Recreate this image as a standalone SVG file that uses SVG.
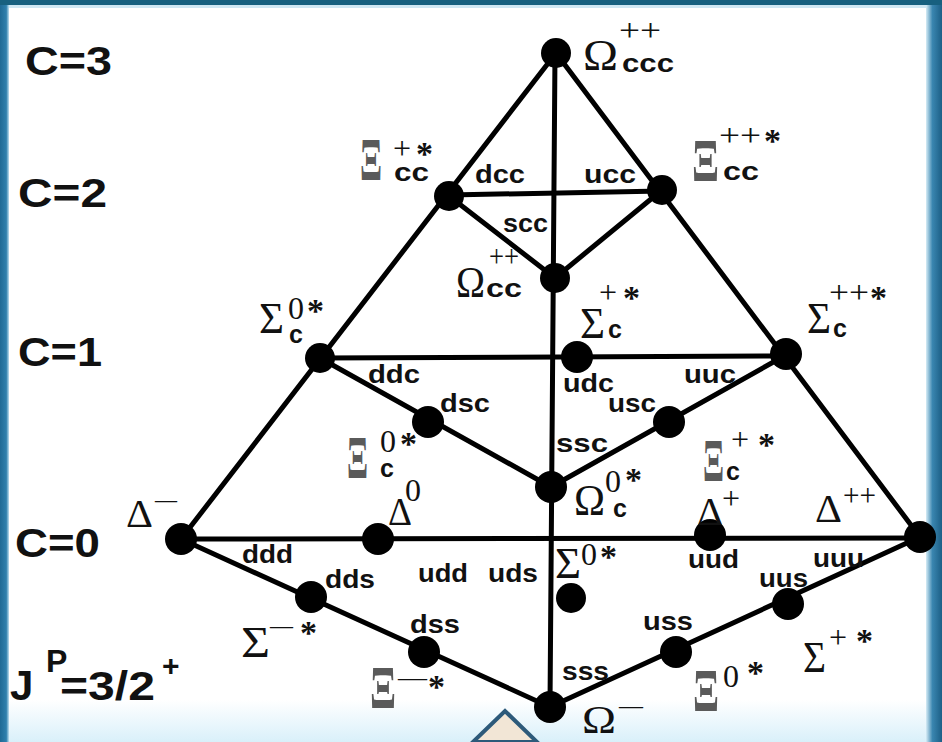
<svg xmlns="http://www.w3.org/2000/svg" width="942" height="742" viewBox="0 0 942 742">
<defs>
<linearGradient id="lb" x1="0" x2="1" y1="0" y2="0"><stop offset="0" stop-color="#1f6a95"/><stop offset="0.7" stop-color="#2f80ad"/><stop offset="1" stop-color="#bfe0f0"/></linearGradient>
<linearGradient id="rb" x1="0" x2="1" y1="0" y2="0"><stop offset="0" stop-color="#d6ecf6"/><stop offset="0.4" stop-color="#3a86b0"/><stop offset="1" stop-color="#1c5f86"/></linearGradient>
<linearGradient id="bb" x1="0" x2="0" y1="0" y2="1"><stop offset="0" stop-color="#ffffff"/><stop offset="1" stop-color="#d9f0fa"/></linearGradient>
<style>
.ln{stroke:#000;stroke-width:5;fill:none;stroke-linecap:round}
.nd{fill:#000}
.g{font-family:"Liberation Serif","Times New Roman",serif;font-size:44px;fill:#111}
.gx{font-family:"Liberation Serif","Times New Roman",serif;font-size:42px;font-weight:bold;fill:#5a5a5a}
.gd{font-family:"Liberation Serif","Times New Roman",serif;font-size:40px;fill:#111}
.sp{font-family:"Liberation Serif","Times New Roman",serif;font-size:32px;fill:#111}
.st{font-family:"Liberation Serif","Times New Roman",serif;font-size:34px;font-weight:bold;fill:#111}
.sb{font-family:"Liberation Sans",Arial,sans-serif;font-weight:bold;font-size:25px;fill:#111}
.q{font-family:"Liberation Sans",Arial,sans-serif;font-weight:bold;font-size:25px;fill:#111}
.c{font-family:"Liberation Sans",Arial,sans-serif;font-weight:bold;font-size:40px;fill:#111}
</style>
</defs>
<rect x="0" y="0" width="942" height="742" fill="#ffffff"/>
<rect x="0" y="700" width="942" height="42" fill="url(#bb)"/>
<rect x="0" y="0" width="9" height="742" fill="url(#lb)"/>
<rect x="926" y="0" width="16" height="742" fill="url(#rb)"/>
<rect x="0" y="0" width="942" height="5" fill="#17607f"/>
<rect x="9" y="5" width="917" height="3" fill="#cfe7f3"/>
<polygon points="473,742 505,711 537,742" fill="#f2e6d6" stroke="#2d5a7a" stroke-width="4"/>

<g id="connectors">
<line class="ln" x1="556" y1="53" x2="181" y2="539"/>
<line class="ln" x1="556" y1="53" x2="920" y2="537"/>
<line class="ln" x1="555" y1="53" x2="550" y2="707"/>
<line class="ln" x1="449" y1="195" x2="662" y2="191"/>
<line class="ln" x1="449" y1="196" x2="555" y2="278"/>
<line class="ln" x1="662" y1="190" x2="555" y2="278"/>
<line class="ln" x1="320" y1="358" x2="786" y2="356"/>
<line class="ln" x1="320" y1="358" x2="551" y2="487"/>
<line class="ln" x1="786" y1="355" x2="551" y2="487"/>
<line class="ln" x1="181" y1="539" x2="920" y2="538"/>
<line class="ln" x1="181" y1="539" x2="550" y2="707"/>
<line class="ln" x1="920" y1="537" x2="550" y2="707"/>
</g>

<g id="labels-left">
<text class="c" x="25" y="75" textLength="87" lengthAdjust="spacingAndGlyphs">C=3</text>
<text class="c" x="18" y="207" textLength="89" lengthAdjust="spacingAndGlyphs">C=2</text>
<text class="c" x="18" y="366" textLength="84" lengthAdjust="spacingAndGlyphs">C=1</text>
<text class="c" x="15" y="557" textLength="85" lengthAdjust="spacingAndGlyphs">C=0</text>
<text class="c" x="10" y="700" style="font-size:42px">J</text>
<text class="c" x="46" y="672" style="font-size:32px">P</text>
<text class="c" x="60" y="700" textLength="95" lengthAdjust="spacingAndGlyphs">=3/2</text>
<text class="c" x="162" y="676" style="font-size:30px">+</text>
</g>

<g id="n-omega-ccc"><circle class="nd" cx="556" cy="53" r="15"/>
<text class="g" x="583" y="70" textLength="35" lengthAdjust="spacingAndGlyphs">Ω</text><text class="sb" x="622" y="72" textLength="52" lengthAdjust="spacingAndGlyphs">ccc</text><text class="sp" x="619" y="41" textLength="42" lengthAdjust="spacingAndGlyphs">++</text></g>

<g id="n-xi-cc-p"><circle class="nd" cx="449" cy="196" r="15"/>
<text class="gx" transform="translate(360,180) scale(1,1.45)" x="0" y="0" textLength="22" lengthAdjust="spacingAndGlyphs">Ξ</text><text class="sb" x="394" y="181" textLength="35" lengthAdjust="spacingAndGlyphs">cc</text><text class="sp" x="393" y="159">+</text><text class="st" x="416" y="165">*</text></g>

<g id="n-xi-cc-pp"><circle class="nd" cx="662" cy="190" r="15"/>
<text class="gx" transform="translate(692,181) scale(1,1.45)" x="0" y="0" textLength="27" lengthAdjust="spacingAndGlyphs">Ξ</text><text class="sb" x="723" y="180" textLength="36" lengthAdjust="spacingAndGlyphs">cc</text><text class="sp" x="719" y="146" textLength="42" lengthAdjust="spacingAndGlyphs">++</text><text class="st" x="764" y="152">*</text></g>

<g id="n-omega-cc"><circle class="nd" cx="555" cy="278" r="15"/>
<text class="g" x="456" y="297" textLength="29" lengthAdjust="spacingAndGlyphs">Ω</text><text class="sb" x="486" y="297" textLength="36" lengthAdjust="spacingAndGlyphs">cc</text><text class="sp" x="489" y="267" textLength="30" lengthAdjust="spacingAndGlyphs">++</text></g>
<text class="q" x="475" y="183" textLength="50" lengthAdjust="spacingAndGlyphs">dcc</text>
<text class="q" x="584" y="183" textLength="52" lengthAdjust="spacingAndGlyphs">ucc</text>
<text class="q" x="503" y="232" textLength="45" lengthAdjust="spacingAndGlyphs">scc</text>

<g id="n-sigma-c0"><circle class="nd" cx="320" cy="358" r="15"/>
<text class="g" x="259" y="333" textLength="25" lengthAdjust="spacingAndGlyphs">Σ</text><text class="sp" x="288" y="319">0</text><text class="st" x="307" y="322">*</text><text class="sb" x="289" y="343">c</text></g>

<g id="n-sigma-cp"><circle class="nd" cx="577" cy="357" r="16"/>
<text class="g" x="580" y="338" textLength="25" lengthAdjust="spacingAndGlyphs">Σ</text><text class="sb" x="608" y="338">c</text><text class="sp" x="599" y="303">+</text><text class="st" x="623" y="309">*</text></g>

<g id="n-sigma-cpp"><circle class="nd" cx="786" cy="354" r="16"/>
<text class="g" x="807" y="333" textLength="24" lengthAdjust="spacingAndGlyphs">Σ</text><text class="sb" x="833" y="337">c</text><text class="sp" x="829" y="303" textLength="40" lengthAdjust="spacingAndGlyphs">++</text><text class="st" x="870" y="309">*</text></g>

<g id="n-xi-c0"><circle class="nd" cx="428" cy="422" r="16"/>
<text class="gx" transform="translate(347,478) scale(1,1.45)" x="0" y="0" textLength="21" lengthAdjust="spacingAndGlyphs">Ξ</text><text class="sp" x="380" y="452">0</text><text class="st" x="400" y="455">*</text><text class="sb" x="380" y="477">c</text></g>

<g id="n-xi-cp"><circle class="nd" cx="669" cy="422" r="16"/>
<text class="gx" transform="translate(703,481) scale(1,1.45)" x="0" y="0" textLength="21" lengthAdjust="spacingAndGlyphs">Ξ</text><text class="sb" x="726" y="480">c</text><text class="sp" x="731" y="450">+</text><text class="st" x="758" y="456">*</text></g>

<g id="n-omega-c0"><circle class="nd" cx="551" cy="487" r="16"/>
<text class="g" x="574" y="515" textLength="31" lengthAdjust="spacingAndGlyphs">Ω</text><text class="sp" x="605" y="492">0</text><text class="st" x="625" y="491">*</text><text class="sb" x="613" y="517">c</text></g>

<text class="q" x="368" y="383" textLength="52" lengthAdjust="spacingAndGlyphs">ddc</text>
<text class="q" x="440" y="412" textLength="50" lengthAdjust="spacingAndGlyphs">dsc</text>
<text class="q" x="563" y="392" textLength="51" lengthAdjust="spacingAndGlyphs">udc</text>
<text class="q" x="684" y="383" textLength="52" lengthAdjust="spacingAndGlyphs">uuc</text>
<text class="q" x="608" y="412" textLength="48" lengthAdjust="spacingAndGlyphs">usc</text>
<text class="q" x="556" y="452" textLength="52" lengthAdjust="spacingAndGlyphs">ssc</text>

<g id="n-delta-m"><circle class="nd" cx="181" cy="539" r="16"/>
<text class="gd" x="126" y="527" textLength="27" lengthAdjust="spacingAndGlyphs">Δ</text><text class="sp" x="155" y="507" style="font-size:24px" textLength="22" lengthAdjust="spacingAndGlyphs">—</text></g>

<g id="n-delta-0"><circle class="nd" cx="378" cy="539" r="16"/>
<text class="gd" x="388" y="525" textLength="24" lengthAdjust="spacingAndGlyphs">Δ</text><text class="sp" x="405" y="501">0</text></g>

<g id="n-delta-p"><circle class="nd" cx="710" cy="535" r="16"/>
<text class="gd" x="697" y="525" textLength="26" lengthAdjust="spacingAndGlyphs">Δ</text><text class="sp" x="722" y="509">+</text></g>

<g id="n-delta-pp"><circle class="nd" cx="920" cy="537" r="16"/>
<text class="gd" x="815" y="522" textLength="27" lengthAdjust="spacingAndGlyphs">Δ</text><text class="sp" x="843" y="506" textLength="33" lengthAdjust="spacingAndGlyphs">++</text></g>

<g id="n-sigma-0"><circle class="nd" cx="571" cy="598" r="15"/>
<text class="g" x="555" y="578" textLength="26" lengthAdjust="spacingAndGlyphs">Σ</text><text class="sp" x="581" y="565">0</text><text class="st" x="600" y="568">*</text></g>

<g id="n-sigma-m"><circle class="nd" cx="311" cy="597" r="16"/>
<text class="g" x="241" y="657" textLength="29" lengthAdjust="spacingAndGlyphs">Σ</text><text class="sp" x="270" y="633" style="font-size:24px" textLength="23" lengthAdjust="spacingAndGlyphs">—</text><text class="st" x="300" y="644">*</text></g>

<g id="n-xi-m"><circle class="nd" cx="424" cy="652" r="16"/>
<text class="gx" transform="translate(370,708) scale(1,1.45)" x="0" y="0" textLength="26" lengthAdjust="spacingAndGlyphs">Ξ</text><text class="sp" x="398" y="685" style="font-size:24px" textLength="29" lengthAdjust="spacingAndGlyphs">—</text><text class="st" x="428" y="698">*</text></g>

<g id="n-xi-0"><circle class="nd" cx="676" cy="652" r="16"/>
<text class="gx" transform="translate(693,711) scale(1,1.45)" x="0" y="0" textLength="26" lengthAdjust="spacingAndGlyphs">Ξ</text><text class="sp" x="723" y="687">0</text><text class="st" x="747" y="684">*</text></g>

<g id="n-sigma-p"><circle class="nd" cx="788" cy="604" r="16"/>
<text class="g" x="803" y="672" textLength="23" lengthAdjust="spacingAndGlyphs">Σ</text><text class="sp" x="829" y="648">+</text><text class="st" x="856" y="652">*</text></g>

<g id="n-omega-m"><circle class="nd" cx="550" cy="707" r="16"/>
<text class="gd" x="582" y="733" textLength="34" lengthAdjust="spacingAndGlyphs">Ω</text><text class="sp" x="619" y="713" style="font-size:24px" textLength="24" lengthAdjust="spacingAndGlyphs">—</text></g>

<text class="q" x="242" y="563" textLength="51" lengthAdjust="spacingAndGlyphs">ddd</text>
<text class="q" x="325" y="588" textLength="50" lengthAdjust="spacingAndGlyphs">dds</text>
<text class="q" x="418" y="582" textLength="50" lengthAdjust="spacingAndGlyphs">udd</text>
<text class="q" x="488" y="582" textLength="50" lengthAdjust="spacingAndGlyphs">uds</text>
<text class="q" x="410" y="633" textLength="50" lengthAdjust="spacingAndGlyphs">dss</text>
<text class="q" x="688" y="568" textLength="51" lengthAdjust="spacingAndGlyphs">uud</text>
<text class="q" x="813" y="567" textLength="51" lengthAdjust="spacingAndGlyphs">uuu</text>
<text class="q" x="759" y="587" textLength="49" lengthAdjust="spacingAndGlyphs">uus</text>
<text class="q" x="643" y="630" textLength="50" lengthAdjust="spacingAndGlyphs">uss</text>
<text class="q" x="562" y="680" textLength="47" lengthAdjust="spacingAndGlyphs">sss</text>
</svg>
